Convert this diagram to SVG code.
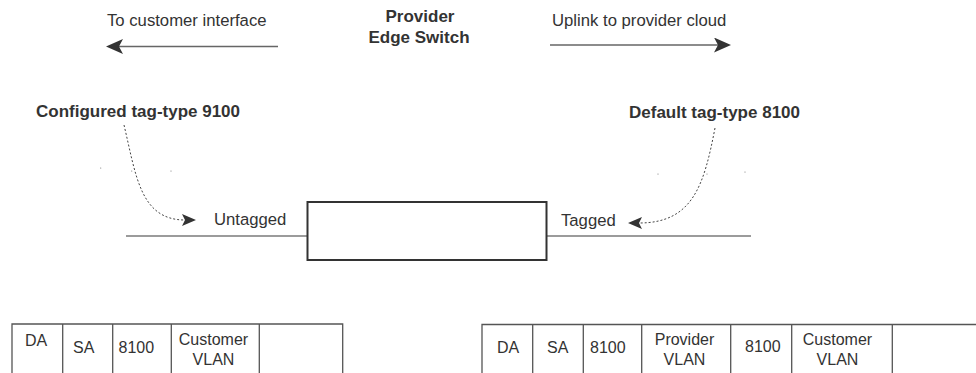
<svg xmlns="http://www.w3.org/2000/svg" width="976" height="373" viewBox="0 0 976 373">
<style>
text{font-family:"Liberation Sans",Arial,sans-serif;fill:#333}
.lbl{font-size:16.7px}
.bold{font-size:17px;font-weight:bold}
.cell{font-size:16px}
.wire{stroke:#7a7a7a;stroke-width:1.6;fill:none}
.dir{stroke:#666;stroke-width:1.6;fill:none}
.dash{stroke:#444;stroke-width:1;stroke-dasharray:2,2;fill:none}
.tbl{stroke:#555;stroke-width:1.3;fill:none}
.dot{fill:#777}
</style>
<defs>
<marker id="big" markerUnits="userSpaceOnUse" markerWidth="18" markerHeight="15" refX="4" refY="7.5" orient="auto"><path d="M0,0 L17,7.5 L0,15 L4,7.5 z" fill="#333"/></marker>
<marker id="small" markerUnits="userSpaceOnUse" markerWidth="15" markerHeight="12" refX="3" refY="6" orient="auto"><path d="M0,0 L14,6 L0,12 L3,6 z" fill="#333"/></marker>
</defs>
<rect width="976" height="373" fill="#fff"/>

<g id="connectors">
<line class="dir" x1="278" y1="46.5" x2="119" y2="46.5" marker-end="url(#big)"/>
<line class="dir" x1="550" y1="45" x2="718" y2="45" marker-end="url(#big)"/>
<line class="wire" x1="126" y1="236" x2="307" y2="236"/>
<line class="wire" x1="547" y1="236" x2="751" y2="236"/>
<path class="dash" d="M124,125 C136,175 140,220 185,220" marker-end="url(#small)"/>
<path class="dash" d="M715,128 C704,185 693,223 639,223" marker-end="url(#small)"/>
</g>

<g id="title">
<text class="bold" x="420" y="22" text-anchor="middle">Provider</text>
<text class="bold" x="419" y="43" text-anchor="middle">Edge Switch</text>
</g>
<g id="label-customer"><text class="lbl" x="107" y="26">To customer interface</text></g>
<g id="label-uplink"><text class="lbl" x="552" y="26">Uplink to provider cloud</text></g>
<g id="label-configured"><text class="bold" x="36" y="117">Configured tag-type 9100</text></g>
<g id="label-default"><text class="bold" x="629" y="117.5">Default tag-type 8100</text></g>

<g id="switch"><rect x="307.5" y="202" width="239" height="58" fill="none" stroke="#333" stroke-width="2"/></g>
<g id="label-untagged"><text class="lbl" x="214" y="225">Untagged</text></g>
<g id="label-tagged"><text class="lbl" x="561" y="225.5">Tagged</text></g>

<g id="stray-dots">
<circle class="dot" cx="100.7" cy="168" r="0.6"/>
<circle class="dot" cx="131.7" cy="171" r="0.6"/>
<circle class="dot" cx="171" cy="171" r="0.6"/>
<circle class="dot" cx="658" cy="174" r="0.6"/>
<circle class="dot" cx="707" cy="174" r="0.6"/>
<circle class="dot" cx="745" cy="172" r="0.6"/>
</g>

<g id="frame-untagged">
<path class="tbl" d="M12,373 V324 H342.7 V373 M62.7,324 V373 M112.7,324 V373 M171.3,324 V373 M259.3,324 V373"/>
<text class="cell" x="25" y="346">DA</text>
<text class="cell" x="73" y="353">SA</text>
<text class="cell" x="118.5" y="353">8100</text>
<text class="cell" x="213.5" y="345" text-anchor="middle">Customer</text>
<text class="cell" x="213.5" y="364.5" text-anchor="middle">VLAN</text>
</g>

<g id="frame-tagged">
<path class="tbl" d="M482,373 V324.5 H976 M532.7,324.5 V373 M583.3,324.5 V373 M641.7,324.5 V373 M730.7,324.5 V373 M791.7,324.5 V373 M892.3,324.5 V373"/>
<text class="cell" x="497" y="352.5">DA</text>
<text class="cell" x="547" y="352.5">SA</text>
<text class="cell" x="590" y="353">8100</text>
<text class="cell" x="684.5" y="345" text-anchor="middle">Provider</text>
<text class="cell" x="684.5" y="365" text-anchor="middle">VLAN</text>
<text class="cell" x="745" y="352">8100</text>
<text class="cell" x="837.5" y="345" text-anchor="middle">Customer</text>
<text class="cell" x="837.5" y="365" text-anchor="middle">VLAN</text>
</g>
</svg>
